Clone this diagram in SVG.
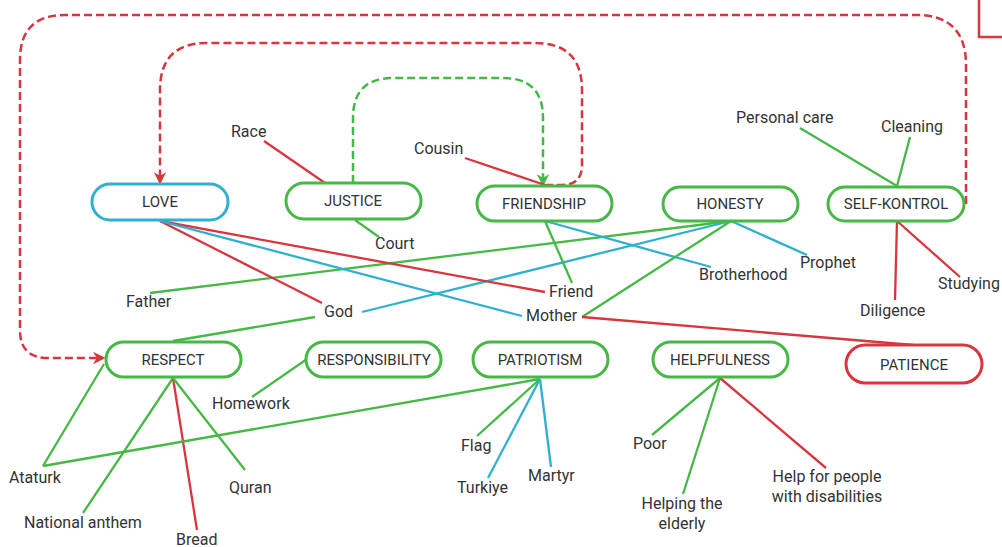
<svg xmlns="http://www.w3.org/2000/svg" width="1002" height="547" viewBox="0 0 1002 547">
<style>
.bg{fill:#ffffff}
.node rect{fill:#ffffff;stroke-width:3}
.g rect{stroke:#45b845}
.c rect{stroke:#2fb0d0}
.r rect{stroke:#d8363f}
.node text{font-family:Roboto,"Liberation Sans",sans-serif;font-size:15px;fill:#333;text-anchor:middle}
.lbl{font-family:Roboto,"Liberation Sans",sans-serif;font-size:16px;fill:#333}
.lg{stroke:#45b845;stroke-width:2.3;fill:none}
.lr{stroke:#d8363f;stroke-width:2.3;fill:none}
.lc{stroke:#2fb0d0;stroke-width:2.3;fill:none}
.dr{stroke:#d8363f;stroke-width:2.5;fill:none;stroke-dasharray:8 4}
.dg{stroke:#45b845;stroke-width:2.5;fill:none;stroke-dasharray:8 4}
</style>
<defs>
<marker id="ar" viewBox="0 0 10 10" refX="8" refY="5" markerWidth="5" markerHeight="5" orient="auto" markerUnits="strokeWidth">
<path d="M0,0 L10,5 L0,10 L3,5 z" fill="#d8363f"/>
</marker>
<marker id="ag" viewBox="0 0 10 10" refX="8" refY="5" markerWidth="5" markerHeight="5" orient="auto" markerUnits="strokeWidth">
<path d="M0,0 L10,5 L0,10 L3,5 z" fill="#45b845"/>
</marker>
</defs>
<rect class="bg" x="0" y="0" width="1002" height="547"/>
<rect x="979" y="-4" width="40" height="41" fill="none" stroke="#d8363f" stroke-width="2.5"/>
<g id="connectors">
<path class="dr" d="M966 204 L966 65 Q966 15 916 15 L65 15 Q20 15 20 60 L20 330 Q20 358 48 358 L103 358" marker-end="url(#ar)"/>
<path class="dr" d="M545 185 L562 185 Q582 185 582 165 L582 90 Q582 43 535 43 L207 43 Q160 43 160 90 L160 182" marker-end="url(#ar)"/>
<path class="dg" d="M353 183 L353 118 Q353 78 393 78 L503 78 Q543 78 543 118 L543 184" marker-end="url(#ag)"/>
<line class="lr" x1="264" y1="141" x2="325" y2="183"/>
<line class="lr" x1="465" y1="158" x2="545" y2="185"/>
<line class="lg" x1="355" y1="220" x2="379" y2="237"/>
<line class="lg" x1="800" y1="128" x2="897" y2="186"/>
<line class="lg" x1="910" y1="137" x2="897" y2="186"/>
<line class="lg" x1="150" y1="293" x2="731" y2="221"/>
<line class="lr" x1="160" y1="221" x2="322" y2="303"/>
<line class="lc" x1="362" y1="312" x2="731" y2="221"/>
<line class="lg" x1="315" y1="317" x2="173" y2="341"/>
<line class="lr" x1="160" y1="221" x2="545" y2="292"/>
<line class="lc" x1="160" y1="221" x2="522" y2="316"/>
<line class="lg" x1="545" y1="221" x2="572" y2="283"/>
<line class="lc" x1="545" y1="221" x2="711" y2="267"/>
<line class="lc" x1="731" y1="221" x2="807" y2="255"/>
<line class="lg" x1="731" y1="221" x2="582" y2="317"/>
<line class="lr" x1="582" y1="317" x2="913" y2="345"/>
<line class="lr" x1="897" y1="221" x2="895" y2="300"/>
<line class="lr" x1="897" y1="221" x2="960" y2="277"/>
<line class="lg" x1="173" y1="378" x2="83" y2="513"/>
<line class="lr" x1="173" y1="378" x2="197" y2="530"/>
<line class="lg" x1="173" y1="378" x2="245" y2="470"/>
<line class="lg" x1="104" y1="364" x2="43" y2="466"/>
<line class="lg" x1="540" y1="379" x2="43" y2="466"/>
<line class="lg" x1="252" y1="397" x2="307" y2="359"/>
<line class="lg" x1="540" y1="379" x2="477" y2="436"/>
<line class="lc" x1="540" y1="379" x2="488" y2="478"/>
<line class="lc" x1="540" y1="379" x2="551" y2="467"/>
<line class="lg" x1="720" y1="378" x2="652" y2="435"/>
<line class="lg" x1="720" y1="378" x2="683" y2="494"/>
<line class="lr" x1="720" y1="378" x2="826" y2="468"/>
</g>
<g id="labels">
<text class="lbl" x="231" y="137">Race</text>
<text class="lbl" x="414" y="154">Cousin</text>
<text class="lbl" x="375" y="249">Court</text>
<text class="lbl" x="736" y="123">Personal care</text>
<text class="lbl" x="881" y="132">Cleaning</text>
<text class="lbl" x="126" y="307">Father</text>
<text class="lbl" x="324" y="317">God</text>
<text class="lbl" x="549" y="297">Friend</text>
<text class="lbl" x="526" y="321">Mother</text>
<text class="lbl" x="699" y="280">Brotherhood</text>
<text class="lbl" x="800" y="268">Prophet</text>
<text class="lbl" x="860" y="316">Diligence</text>
<text class="lbl" x="938" y="289">Studying</text>
<text class="lbl" x="212" y="409">Homework</text>
<text class="lbl" x="9" y="483">Ataturk</text>
<text class="lbl" x="24" y="528">National anthem</text>
<text class="lbl" x="176" y="545">Bread</text>
<text class="lbl" x="229" y="493">Quran</text>
<text class="lbl" x="461" y="451">Flag</text>
<text class="lbl" x="457" y="493">Turkiye</text>
<text class="lbl" x="528" y="481">Martyr</text>
<text class="lbl" x="633" y="449">Poor</text>
<text class="lbl" x="682" y="509" text-anchor="middle">Helping the</text>
<text class="lbl" x="682" y="529" text-anchor="middle">elderly</text>
<text class="lbl" x="827" y="482" text-anchor="middle">Help for people</text>
<text class="lbl" x="827" y="502" text-anchor="middle">with disabilities</text>
</g>
<g id="love" class="node c"><rect x="92" y="184" width="136" height="36" rx="18"/><text x="160" y="207">LOVE</text></g>
<g id="justice" class="node g"><rect x="286" y="183" width="135" height="36" rx="18"/><text x="353" y="206">JUSTICE</text></g>
<g id="friendship" class="node g"><rect x="477" y="186" width="135" height="35" rx="17.5"/><text x="544" y="209">FRIENDSHIP</text></g>
<g id="honesty" class="node g"><rect x="663" y="187" width="135" height="34" rx="17"/><text x="730" y="209">HONESTY</text></g>
<g id="selfkontrol" class="node g"><rect x="828" y="187" width="136" height="34" rx="17"/><text x="896" y="209">SELF-KONTROL</text></g>
<g id="respect" class="node g"><rect x="106" y="342" width="135" height="35" rx="17.5"/><text x="173" y="365">RESPECT</text></g>
<g id="responsibility" class="node g"><rect x="306" y="342" width="135" height="35" rx="17.5"/><text x="374" y="365">RESPONSIBILITY</text></g>
<g id="patriotism" class="node g"><rect x="473" y="342" width="135" height="35" rx="17.5"/><text x="540" y="365">PATRIOTISM</text></g>
<g id="helpfulness" class="node g"><rect x="653" y="342" width="135" height="35" rx="17.5"/><text x="720" y="365">HELPFULNESS</text></g>
<g id="patience" class="node r"><rect x="846" y="345" width="136" height="38" rx="19"/><text x="914" y="370">PATIENCE</text></g>
</svg>
